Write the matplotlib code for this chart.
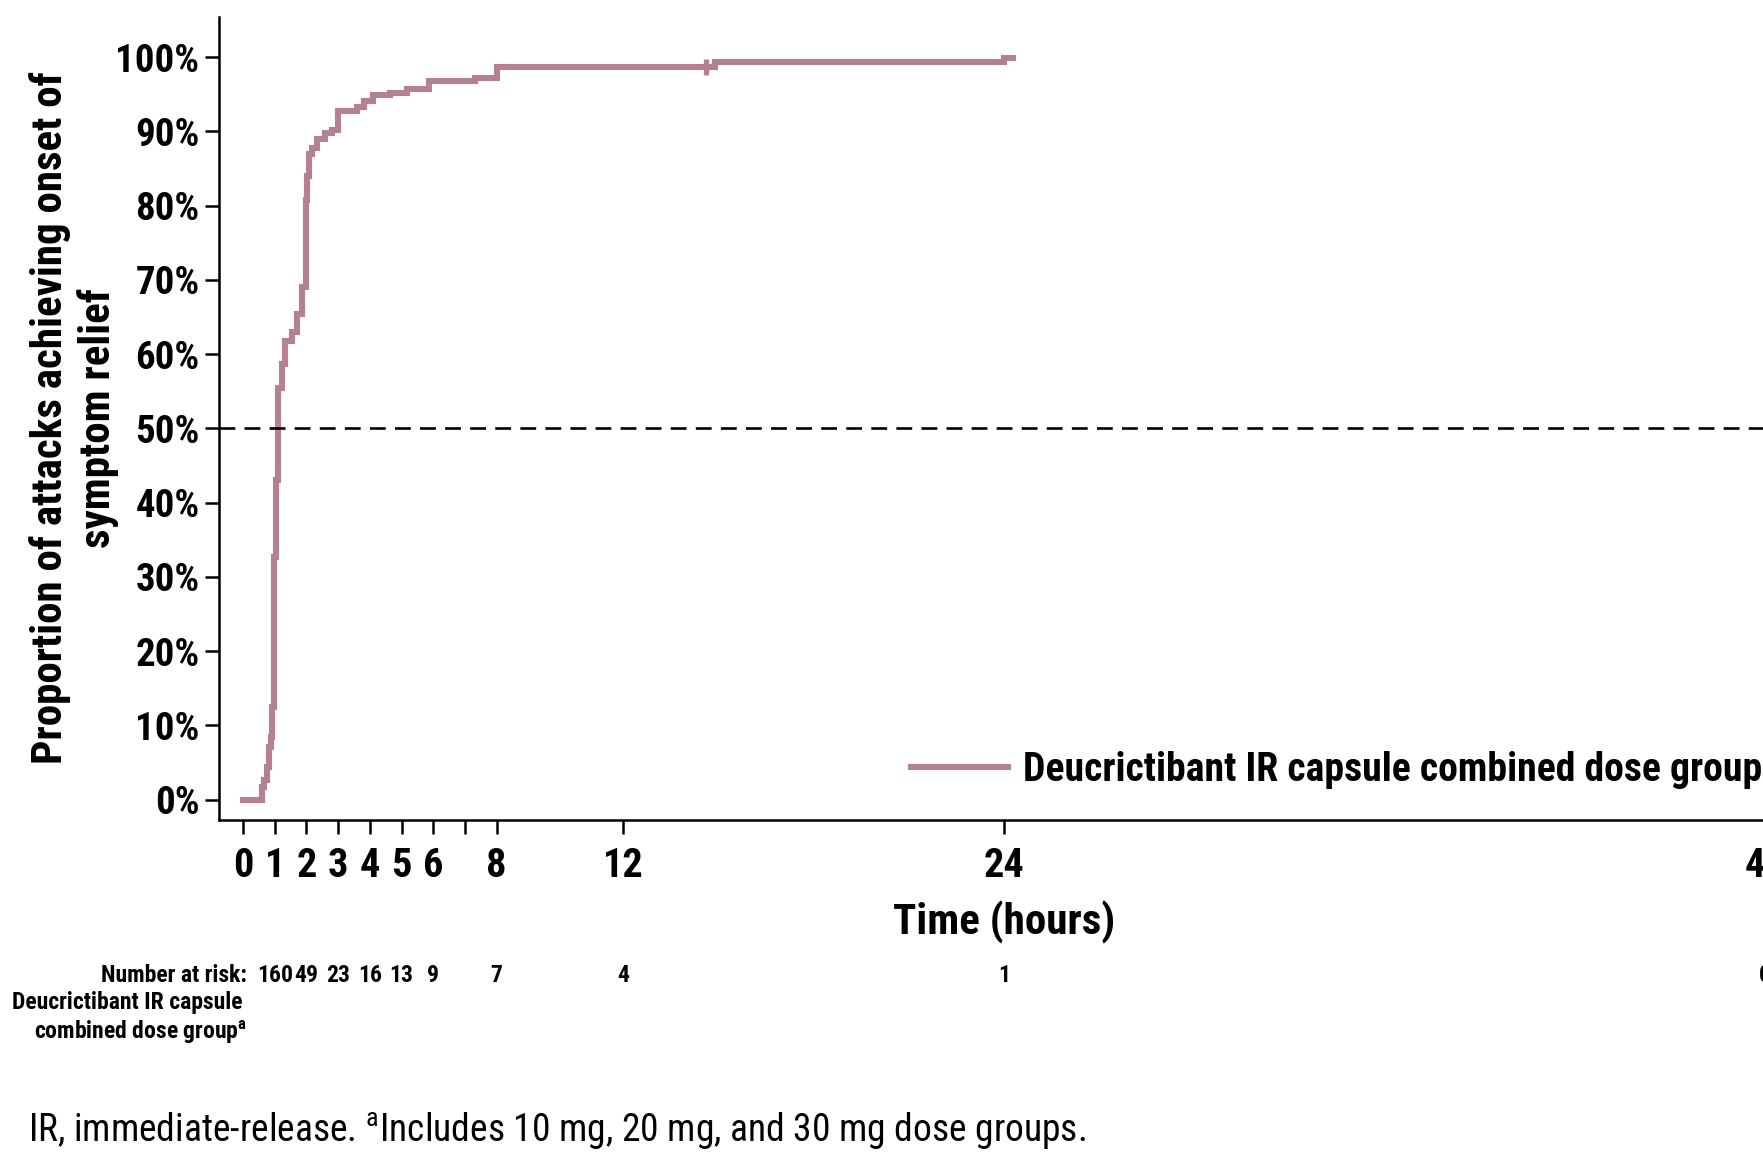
import numpy as np
import matplotlib
matplotlib.use("Agg")
import matplotlib.pyplot as plt
from matplotlib.lines import Line2D
from matplotlib.transforms import blended_transform_factory

fam = ['Roboto Condensed', 'DejaVu Sans']
plt.rcParams['font.family'] = fam
plt.rcParams['mathtext.fontset'] = 'custom'
plt.rcParams['mathtext.rm'] = 'Roboto Condensed'
plt.rcParams['mathtext.bf'] = 'Roboto Condensed:bold'

# Kaplan-Meier type curve (hours, % achieving relief)
times = [0, 0.59, 0.67, 0.75, 0.83, 0.88, 0.92, 0.96, 1.03, 1.11, 1.22, 1.32,
         1.54, 1.69, 1.85, 1.99, 2.03, 2.07, 2.17, 2.32, 2.59, 2.80, 2.98,
         3.59, 3.80, 4.11, 4.64, 5.16, 5.85, 7.32, 8.02, 14.9, 24.0, 24.3]
pct = [0, 1.7, 2.6, 4.4, 7.1, 8.4, 12.5, 32.7, 43.0, 55.5, 58.7, 61.8,
       63.0, 65.4, 69.1, 80.7, 84.0, 86.9, 87.8, 89.0, 89.8, 90.2, 92.8,
       93.3, 94.1, 94.9, 95.2, 95.7, 96.8, 97.2, 98.65, 99.3, 99.9, 99.9]
censor_t = [14.6]
censor_p = [98.65]

xticks = [0, 1, 2, 3, 4, 5, 6, 7, 8, 12, 24, 48]
xlabels = ['0', '1', '2', '3', '4', '5', '6', '', '8', '12', '24', '48']
yticks = list(range(0, 101, 10))

risk_t = [1, 2, 3, 4, 5, 6, 8, 12, 24, 48]
risk_n = [160, 49, 23, 16, 13, 9, 7, 4, 1, 0]

col = '#B5808F'
W, H = 1763, 1152
fig = plt.figure(figsize=(W / 100, H / 100), dpi=100)
ax = fig.add_axes([219 / W, 1 - 819.7 / H, 0.8857, (819.7 - 17) / H])

ax.step(times, pct, where='post', color=col, lw=4.4, solid_joinstyle='miter')
ax.plot(censor_t, censor_p, ls='none', marker='|', ms=11, mew=3.8, color=col)
ax.axhline(50, color='black', lw=1.9, ls=(0, (6, 3.5)))

ax.set_xlim(-0.76, 48.5)
ax.set_ylim(-2.7, 105.4)
ax.spines['top'].set_visible(False)
ax.spines['right'].set_visible(False)
for s in ['left', 'bottom']:
    ax.spines[s].set_linewidth(1.8)

ax.set_xticks(xticks)
ax.set_xticklabels(xlabels, fontsize=29, fontweight='bold')
ax.set_yticks(yticks)
ax.set_yticklabels([f'{v}%' for v in yticks], fontsize=28, fontweight='bold')
ax.tick_params(axis='both', length=10, width=1.8, direction='out')
ax.tick_params(axis='y', pad=4)
ax.tick_params(axis='x', pad=10)

fig.text(74 / W, 1 - 418 / H, 'Proportion of attacks achieving onset of\nsymptom relief',
         rotation=90, ha='center', va='center', multialignment='center',
         fontsize=31, fontweight='bold', linespacing=1.2)

tr = blended_transform_factory(ax.transData, fig.transFigure)
ax.text(24, 1 - 922.5 / H, 'Time (hours)', transform=tr, ha='center', va='center',
        fontsize=31, fontweight='bold')

handle = Line2D([], [], color=col, lw=4.4)
ax.legend([handle], ['Deucrictibant IR capsule combined dose group'],
          loc='center left', bbox_to_anchor=(911 / W, 1 - 770 / H),
          bbox_transform=fig.transFigure, frameon=False, borderpad=0,
          borderaxespad=0, handlelength=2.45, handletextpad=0.36,
          prop={'family': fam, 'size': 28.6, 'weight': 'bold'})

# number at risk table
fig.text(247 / W, 1 - 975 / H, 'Number at risk:', ha='right', va='center',
         fontsize=17, fontweight='bold')
for t, n in zip(risk_t, risk_n):
    ax.text(t, 1 - 976 / H, str(n), transform=tr, ha='center', va='center',
            fontsize=17, fontweight='bold', clip_on=False)
fig.text(242 / W, 1 - 1003 / H, 'Deucrictibant IR capsule', ha='right', va='center',
         fontsize=17, fontweight='bold')
fig.text(247 / W, 1 - 1032 / H, r'combined dose group$^{\mathbf{a}}$', ha='right',
         va='center', fontsize=17, fontweight='bold')

fig.text(28 / W, 1 - 1131 / H,
         r'IR, immediate-release. $^{\mathrm{a}}$Includes 10 mg, 20 mg, and 30 mg dose groups.',
         ha='left', va='center', fontsize=27)

fig.savefig('out.png', dpi=100)
